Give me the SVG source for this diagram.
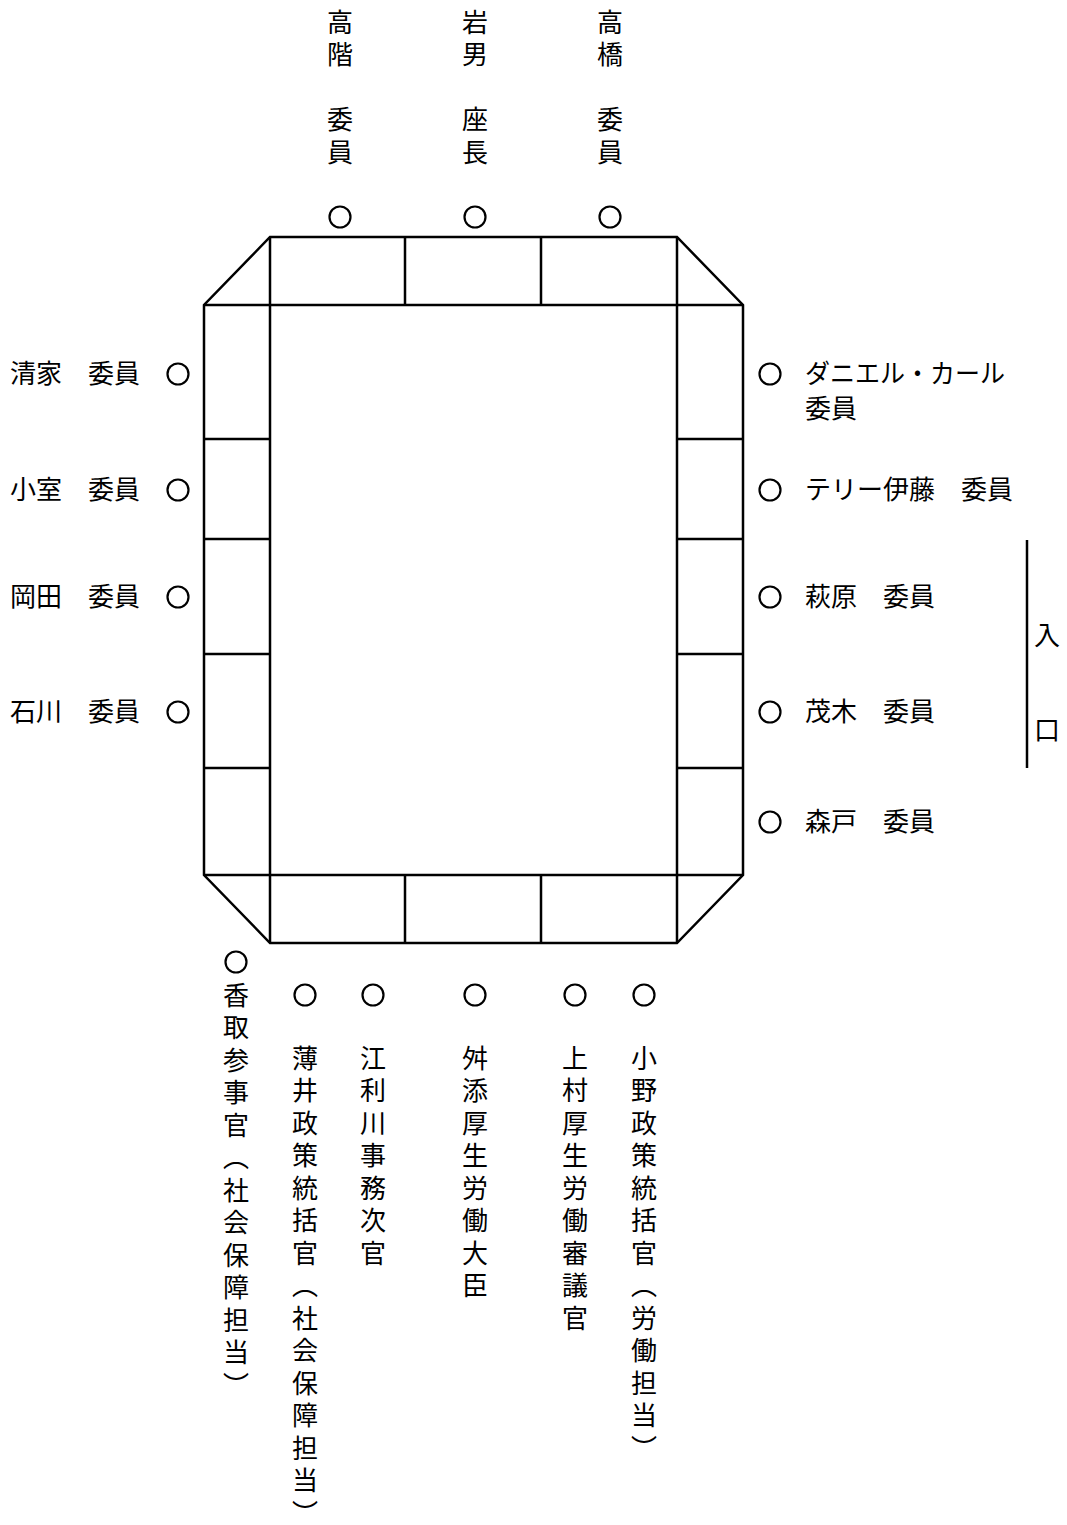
<svg xmlns="http://www.w3.org/2000/svg" width="1067" height="1525" viewBox="0 0 1067 1525">
<style>
.t{font-family:"Noto Sans CJK JP","Noto Sans CJK SC",sans-serif;font-size:26px;fill:#000}
.v{font-family:"Noto Sans CJK JP","Noto Sans CJK SC",sans-serif;font-size:26px;fill:#000;writing-mode:vertical-rl;letter-spacing:6.5px}
.ln{stroke:#000;stroke-width:2.5;fill:none}
.seat{fill:none;stroke:#000;stroke-width:2.2}
</style>
<rect width="1067" height="1525" fill="#fff"/>
<g id="table">
<polygon class="ln" points="270,237 677,237 743,305 743,875 677,943 270,943 204,875 204,305"/>
<path class="ln" d="M270,237V943M677,237V943M204,305H743M204,875H743M405,237V305M541,237V305M405,875V943M541,875V943M204,439H270M204,539H270M204,654H270M204,768H270M677,439H743M677,539H743M677,654H743M677,768H743"/>
</g>
<g id="seat-takashina"><circle class="seat" cx="340" cy="217" r="10.5"/><text class="v" x="340" y="9">高階　委員</text></g>
<g id="seat-iwao"><circle class="seat" cx="475" cy="217" r="10.5"/><text class="v" x="475" y="9">岩男　座長</text></g>
<g id="seat-takahashi"><circle class="seat" cx="610" cy="217" r="10.5"/><text class="v" x="610" y="9">高橋　委員</text></g>
<g id="seat-seike"><circle class="seat" cx="178" cy="374" r="10.5"/><text class="t" x="10" y="383">清家　委員</text></g>
<g id="seat-komuro"><circle class="seat" cx="178" cy="490" r="10.5"/><text class="t" x="10" y="499">小室　委員</text></g>
<g id="seat-okada"><circle class="seat" cx="178" cy="597" r="10.5"/><text class="t" x="10" y="606">岡田　委員</text></g>
<g id="seat-ishikawa"><circle class="seat" cx="178" cy="712" r="10.5"/><text class="t" x="10" y="721">石川　委員</text></g>
<g id="seat-daniel"><circle class="seat" cx="770" cy="374" r="10.5"/><text class="t" x="805" y="383" textLength="200" lengthAdjust="spacingAndGlyphs">ダニエル・カール</text><text class="t" x="805" y="418">委員</text></g>
<g id="seat-terry"><circle class="seat" cx="770" cy="490" r="10.5"/><text class="t" x="805" y="499">テリー伊藤　委員</text></g>
<g id="seat-hagiwara"><circle class="seat" cx="770" cy="597" r="10.5"/><text class="t" x="805" y="606">萩原　委員</text></g>
<g id="seat-shigeki"><circle class="seat" cx="770" cy="712" r="10.5"/><text class="t" x="805" y="721">茂木　委員</text></g>
<g id="seat-morito"><circle class="seat" cx="770" cy="822" r="10.5"/><text class="t" x="805" y="831">森戸　委員</text></g>
<g id="entrance"><path class="ln" d="M1027,540V768" stroke-width="2"/><text class="t" x="1047" y="645" text-anchor="middle">入</text><text class="t" x="1047" y="740" text-anchor="middle">口</text></g>
<g id="seat-katori"><circle class="seat" cx="236" cy="962" r="10.5"/><text class="v" x="236" y="982">香取参事官（社会保障担当）</text></g>
<g id="seat-usui"><circle class="seat" cx="305" cy="995" r="10.5"/><text class="v" x="305" y="1045">薄井政策統括官（社会保障担当）</text></g>
<g id="seat-erikawa"><circle class="seat" cx="373" cy="995" r="10.5"/><text class="v" x="373" y="1045">江利川事務次官</text></g>
<g id="seat-masuzoe"><circle class="seat" cx="475" cy="995" r="10.5"/><text class="v" x="475" y="1045">舛添厚生労働大臣</text></g>
<g id="seat-kamimura"><circle class="seat" cx="575" cy="995" r="10.5"/><text class="v" x="575" y="1045">上村厚生労働審議官</text></g>
<g id="seat-ono"><circle class="seat" cx="644" cy="995" r="10.5"/><text class="v" x="644" y="1045">小野政策統括官（労働担当）</text></g>
<g id="connectors"/>
</svg>
